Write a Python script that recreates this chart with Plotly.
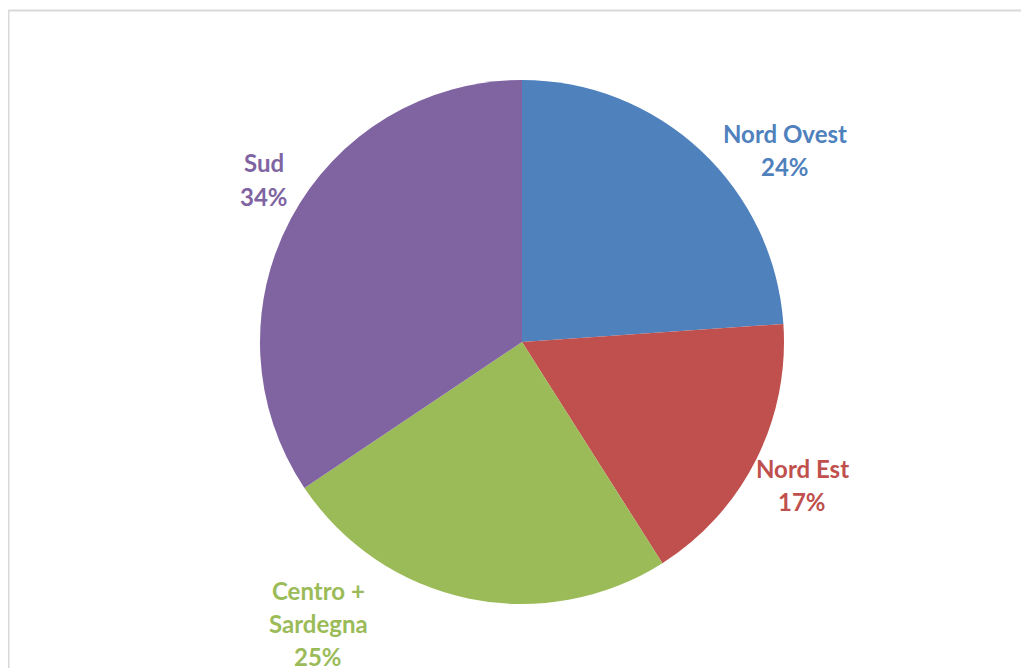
import plotly.graph_objects as go

W, H = 1029, 668
OFF = 8  # page body margin offset

labels = ["Nord Ovest", "Nord Est", "Centro + Sardegna", "Sud"]
values = [23.9, 17.1, 24.6, 34.4]
colors = ["#4F81BD", "#C0504D", "#9BBB59", "#8064A2"]
label_lines = [["Nord Ovest"], ["Nord Est"], ["Centro +", "Sardegna"], ["Sud"]]
label_px = [(785, 133), (802, 468), (318, 590), (264, 163)]
line_step = 33

cx, cy, r = 522 - OFF, 342 - OFF, 262

fig = go.Figure(go.Pie(
    labels=labels, values=values, sort=False, direction="clockwise", rotation=0,
    marker=dict(colors=colors, line=dict(color="white", width=0)),
    textinfo="none", hoverinfo="label+percent", showlegend=False,
    domain=dict(x=[(cx - r) / W, (cx + r) / W], y=[1 - (cy + r) / H, 1 - (cy - r) / H]),
))

total = sum(values)
annotations = []
for lines, v, c, (px, py) in zip(label_lines, values, colors, label_px):
    texts = lines + [f"{round(v / total * 100)}%"]
    for i, t in enumerate(texts):
        annotations.append(dict(
            text=f"<b>{t}</b>", x=(px - OFF) / W, y=1 - (py - OFF + i * line_step) / H,
            xref="paper", yref="paper", xanchor="center", yanchor="middle",
            showarrow=False, font=dict(family="Lato", size=24, color=c),
        ))

fig.update_layout(
    width=W, height=H, margin=dict(l=0, r=0, t=0, b=0),
    paper_bgcolor="white", plot_bgcolor="white",
    annotations=annotations,
    shapes=[dict(type="rect", xref="paper", yref="paper",
                 x0=0.5 / W, x1=1.05, y0=-0.05, y1=1 - 2.5 / H,
                 line=dict(color="#D9D9D9", width=2), fillcolor="rgba(0,0,0,0)")],
)

fig.write_html("out.html")
